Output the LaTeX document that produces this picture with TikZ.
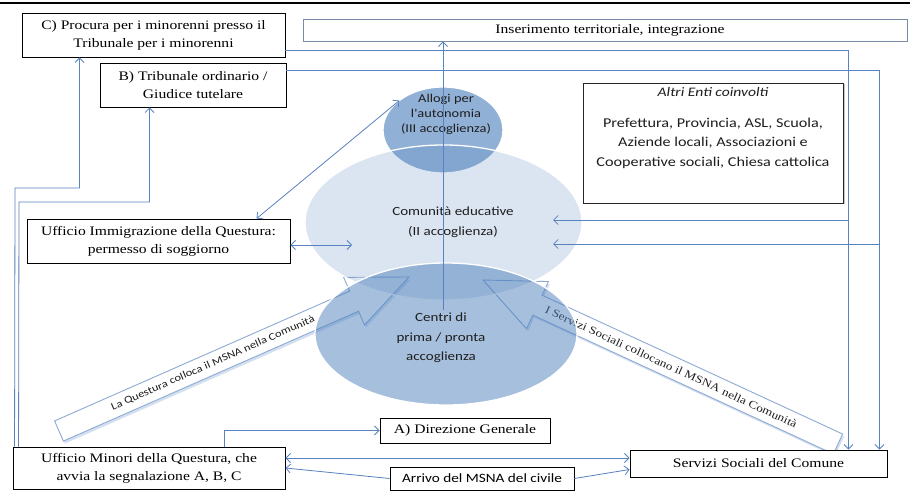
\documentclass[tikz,border=0pt]{standalone}
\usepackage{fontspec}
\setmainfont{Liberation Serif}[FakeStretch=1.2]
\newfontfamily\calib{Carlito}[FakeStretch=1.2]
\usetikzlibrary{arrows.meta,shapes.geometric,calc,shadows}
\definecolor{lnblue}{RGB}{88,130,192}
\definecolor{elbase}{RGB}{79,129,189}
\definecolor{blkout}{RGB}{140,170,212}
\definecolor{insbd}{RGB}{120,140,170}
\definecolor{txtg}{RGB}{30,30,30}
\begin{document}
\begin{tikzpicture}[x=1pt,y=-1pt,
  conn/.style={draw=lnblue, line width=0.8pt},
  arr/.style={-{Straight Barb[length=4.5pt,width=9pt]}},
  darr/.style={{Straight Barb[length=4.5pt,width=9pt]}-{Straight Barb[length=4.5pt,width=9pt]}},
  box/.style={draw=black, line width=0.9pt, fill=white, inner sep=0pt, align=center,
              font=\fontsize{13}{18}\selectfont, text=black},
  ell/.style={ellipse, draw=white, line width=1.3pt, inner sep=0pt, outer sep=0pt, fill=elbase},
  etext/.style={font={\calib\fontsize{12.5}{19.5}\selectfont}, align=center, text=txtg, inner sep=0pt},
  blk/.style={draw=blkout, fill=white, line width=0.9pt,
              drop shadow={shadow xshift=1.5pt, shadow yshift=-2.5pt, opacity=0.4, fill=elbase!60}}
]
\useasboundingbox (0,0) rectangle (910,497);
\fill[white] (0,0) rectangle (910,497);
\draw[line width=1.5pt] (0,3) -- (910,3);

% ---------- block arrows ----------
\coordinate (LT) at (59,431);
\coordinate (LP) at (409,277);
\coordinate (LB) at ($(LP)!60pt!(LT)$);
\draw[blk] ($(LT)!11pt!90:(LP)$) -- ($(LB)!11pt!90:(LP)$) -- ($(LB)!26pt!90:(LP)$) -- (LP)
  -- ($(LB)!26pt!-90:(LP)$) -- ($(LB)!11pt!-90:(LP)$) -- ($(LT)!11pt!-90:(LP)$) -- cycle;
\path (LT) -- (LP) node[sloped, pos=0.44, inner sep=0pt, text=txtg,
  font={\calib\fontsize{10.4}{12}\selectfont}] (ltext) {La Questura colloca il MSNA nella Comunità};

\coordinate (RT) at (838,444);
\coordinate (RP) at (483,280);
\coordinate (RB) at ($(RP)!60pt!(RT)$);
\draw[blk] ($(RT)!11pt!90:(RP)$) -- ($(RB)!11pt!90:(RP)$) -- ($(RB)!26pt!90:(RP)$) -- (RP)
  -- ($(RB)!26pt!-90:(RP)$) -- ($(RB)!11pt!-90:(RP)$) -- ($(RT)!11pt!-90:(RP)$) -- cycle;
\path (RT) -- (RP) node[sloped, pos=0.47, inner sep=0pt, text=txtg,
  font=\fontsize{11}{12}\selectfont] (rtext) {I Servizi Sociali collocano il MSNA nella Comunità};

% ---------- ellipses ----------
\node[ell, fill opacity=0.62, minimum width=120, minimum height=86] (allogi) at (443,130) {};
\node[ell, fill opacity=0.2, minimum width=277, minimum height=155] (comunita) at (443.5,222.5) {};
\node[ell, fill opacity=0.5, minimum width=262, minimum height=142] (centri) at (446,334) {};

\node[etext, font={\calib\fontsize{12}{15}\selectfont}] (allogiT) at (446,114) {Allogi per\\l'autonomia\\(III accoglienza)};
\node[etext] (comunitaT) at (453,222) {Comunità educative\\(II accoglienza)};
\node[etext] (centriT) at (441,338) {Centri di\\prima / pronta\\accoglienza};

% ---------- boxes ----------
\node[box, minimum width=263, minimum height=44] (procura) at (153.5,35) {C) Procura per i minorenni presso il\\Tribunale per i minorenni};
\node[box, minimum width=186, minimum height=44] (tribunale) at (193,85) {B) Tribunale ordinario /\\Giudice tutelare};
\node[box, draw=insbd, minimum width=604, minimum height=22] (inser) at (605,30) {\hspace*{10pt}Inserimento territoriale, integrazione};
\node[box, minimum width=263, minimum height=44] (immig) at (158.5,241) {Ufficio Immigrazione della Questura:\\permesso di soggiorno};
\node[box, minimum width=272, minimum height=42] (minori) at (149,468) {Ufficio Minori della Questura, che\\avvia la segnalazione A, B, C};
\node[box, minimum width=170, minimum height=25] (dirgen) at (465,430.5) {A) Direzione Generale};
\node[box, minimum width=257, minimum height=27] (servizi) at (758.5,463.5) {Servizi Sociali del Comune};
\node[box, font={\calib\fontsize{12.7}{15}\selectfont}, minimum width=184, minimum height=23] (arrivo) at (482,478.5) {Arrivo del MSNA del civile};
\node[box, draw=black!85, minimum width=260, minimum height=120,
  drop shadow={shadow xshift=1.5pt, shadow yshift=-1.5pt, opacity=0.45}] (altri) at (713,143) {};
\node[etext, anchor=base, font={\calib\itshape\fontsize{13}{15}\selectfont}] (altriH) at (713,97) {Altri Enti coinvolti};
\node[etext, font={\calib\fontsize{13.5}{19.5}\selectfont}] (altriT) at (713,143) {Prefettura, Provincia, ASL, Scuola,\\Aziende locali, Associazioni e\\Cooperative sociali, Chiesa cattolica};

% ---------- connectors ----------
\coordinate (k1) at (15,188);
\coordinate (k2) at (19,202);
\draw[conn,arr] ([xshift=2pt]minori.north west) -- (k1) -| ([xshift=58pt]procura.south west);
\draw[conn,arr] ([xshift=6pt]minori.north west) -- (k2) -| ([xshift=50pt]tribunale.south west);
\draw[conn,arr] ([xshift=212pt]minori.north west) |- (dirgen.west);
\coordinate (ym) at (0,458);
\draw[conn,darr] (minori.east |- ym) -- (servizi.west |- ym);
\draw[conn,arr] (arrivo.west) -- (minori.east);
\draw[conn,arr] (arrivo.east) -- ($(servizi.west)+(0,6)$);
\coordinate (v1) at ($(servizi.north east)+(-39,0)$);
\coordinate (v2) at ($(servizi.north east)+(-8,0)$);
\draw[conn,arr] ($(procura.east)+(0,15)$) -| (v1);
\draw[conn,arr] ($(tribunale.east)+(0,-15)$) -| (v2);
\coordinate (e1) at (553,220);
\coordinate (e2) at (553,244);
\draw[conn,arr] (v1 |- e1) -- (e1);
\draw[conn,arr] (v2 |- e2) -- (e2);
\coordinate (vc) at (443,310);
\draw[conn,arr] (vc) -- (vc |- inser.south);
\draw[conn,darr] ([xshift=230pt]immig.north west) -- (allogi.146);
\coordinate (e3) at (352,245);
\draw[conn,darr] (immig.east |- e3) -- (e3);
\end{tikzpicture}
\end{document}
